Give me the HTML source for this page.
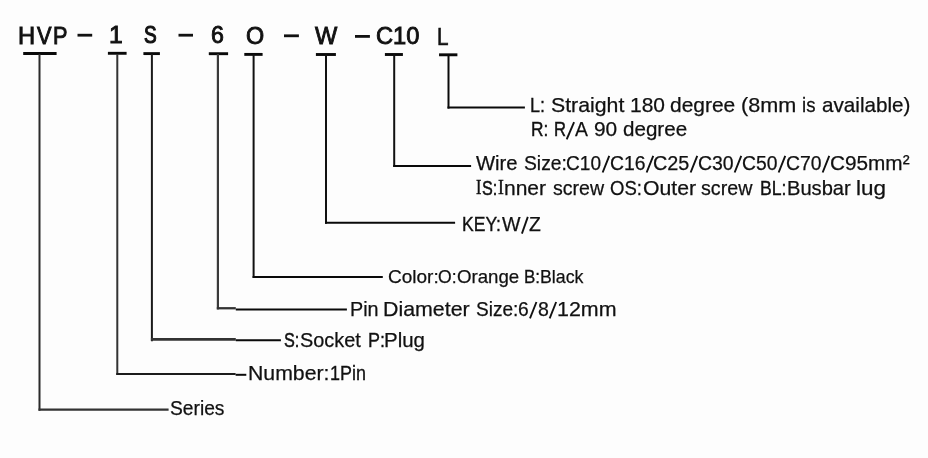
<!DOCTYPE html>
<html><head><meta charset="utf-8"><style>
html,body{margin:0;padding:0;background:#fdfdfd;width:928px;height:458px;overflow:hidden}
.w{position:absolute;left:0;top:0;width:928px;height:458px;filter:grayscale(1)}
svg{position:absolute;left:0;top:0}
.t{position:absolute;font-family:"Liberation Sans",sans-serif;line-height:1;white-space:nowrap;color:#111;transform-origin:0 0}
</style></head><body><div class="w">
<svg width="928" height="458" fill="none"><path d="M77.5 35.2H92.2" stroke="#111" stroke-width="2.8"/><path d="M178.5 35.2H193" stroke="#111" stroke-width="2.8"/><path d="M284 35.8H298.9" stroke="#111" stroke-width="2.8"/><path d="M355 36.4H369.9" stroke="#111" stroke-width="2.8"/><path d="M23.2 53.5H56.6" stroke="#0a0a0a" stroke-width="2.9"/><path d="M107.9 53.3H126.6" stroke="#0a0a0a" stroke-width="2.9"/><path d="M143.4 53.6H159.9" stroke="#0a0a0a" stroke-width="2.9"/><path d="M208.8 53.7H228.1" stroke="#0a0a0a" stroke-width="2.9"/><path d="M244.3 54.4H262.6" stroke="#0a0a0a" stroke-width="2.9"/><path d="M315.9 54.5H335.9" stroke="#0a0a0a" stroke-width="2.9"/><path d="M384.9 54.5H402.9" stroke="#0a0a0a" stroke-width="2.9"/><path d="M439.05 54.8H457.4" stroke="#0a0a0a" stroke-width="2.9"/><path d="M39.5 54V410.8" stroke="#2a2a2a" stroke-width="2"/><path d="M117.3 54V374.9" stroke="#333" stroke-width="2"/><path d="M151.9 54V341.2" stroke="#1a1a1a" stroke-width="2"/><path d="M217.9 54V309.4" stroke="#3a3a3a" stroke-width="2.2"/><path d="M253.6 54V277.9" stroke="#111" stroke-width="2"/><path d="M326.0 54V223.8" stroke="#111" stroke-width="2"/><path d="M394.2 54V166.9" stroke="#111" stroke-width="2"/><path d="M448.5 54V108.6" stroke="#0a0a0a" stroke-width="2"/><path d="M447.5 107.6H524.9" stroke="#0a0a0a" stroke-width="2"/><path d="M393.2 165.9H471.1" stroke="#0a0a0a" stroke-width="2"/><path d="M325.0 222.8H455.1" stroke="#0a0a0a" stroke-width="2"/><path d="M252.6 276.9H382.8" stroke="#0a0a0a" stroke-width="2"/><path d="M216.8 308.25H235.8" stroke="#333" stroke-width="2.3"/><path d="M235.8 309.5H346.9" stroke="#0a0a0a" stroke-width="2"/><path d="M150.9 339.4H235.8" stroke="#333" stroke-width="2.6"/><path d="M235.8 340.2H280.9" stroke="#0a0a0a" stroke-width="2"/><path d="M116.3 373.9H235.6" stroke="#1c1c1c" stroke-width="2"/><path d="M235.6 374.8H246.3" stroke="#0a0a0a" stroke-width="2"/><path d="M38.5 409.6H168.6" stroke="#333" stroke-width="2.4"/><path d="M603.0 171.6L608.9 156.8" stroke="#111" stroke-width="1.9" stroke-linecap="square"/><path d="M647.0 171.6L652.9 156.8" stroke="#111" stroke-width="1.9" stroke-linecap="square"/><path d="M691.0 171.6L696.9 156.8" stroke="#111" stroke-width="1.9" stroke-linecap="square"/><path d="M735.0 171.6L740.9 156.8" stroke="#111" stroke-width="1.9" stroke-linecap="square"/><path d="M779.0 171.6L784.9 156.8" stroke="#111" stroke-width="1.9" stroke-linecap="square"/><path d="M823.0 171.6L828.9 156.8" stroke="#111" stroke-width="1.9" stroke-linecap="square"/><path d="M530.3 317.5L536.1 302.9" stroke="#111" stroke-width="1.9" stroke-linecap="square"/><path d="M550.0 317.5L555.8 302.9" stroke="#111" stroke-width="1.9" stroke-linecap="square"/><path d="M522.2 232.7L527.5 217.8" stroke="#111" stroke-width="1.9" stroke-linecap="square"/><path d="M567.1 138.4L573.7 123.0" stroke="#111" stroke-width="1.9" stroke-linecap="square"/></svg>
<div class="t" style="left:18.12px;top:23.5px;font-size:24px;transform:scaleX(0.9895);-webkit-text-stroke:0.9px #111">H</div>
<div class="t" style="left:36.75px;top:23.5px;font-size:24px;transform:scaleX(0.9059);-webkit-text-stroke:0.9px #111">V</div>
<div class="t" style="left:52.95px;top:23.5px;font-size:24px;transform:scaleX(0.9018);-webkit-text-stroke:0.9px #111">P</div>
<div class="t" style="left:109.26px;top:22.6px;font-size:24px;transform:scaleX(1.0273);-webkit-text-stroke:0.9px #111">1</div>
<div class="t" style="left:144.4px;top:23.25px;font-size:24px;transform:scaleX(0.7933);-webkit-text-stroke:1.15px #111">S</div>
<div class="t" style="left:210.58px;top:23.05px;font-size:24px;transform:scaleX(0.9667);-webkit-text-stroke:0.9px #111">6</div>
<div class="t" style="left:246.27px;top:23.85px;font-size:24px;transform:scaleX(0.9739);-webkit-text-stroke:0.9px #111">O</div>
<div class="t" style="left:315.09px;top:24.0px;font-size:24px;transform:scaleX(0.983);-webkit-text-stroke:0.9px #111">W</div>
<div class="t" style="left:376.46px;top:24.25px;font-size:24px;transform:scaleX(0.9871);-webkit-text-stroke:0.9px #111">C10</div>
<div class="t" style="left:436.89px;top:25.15px;font-size:24px;transform:scaleX(0.8636);-webkit-text-stroke:0.6px #111">L</div>
<div class="t" style="left:530.47px;top:95.2px;font-size:20.3px;transform:scaleX(0.8873);-webkit-text-stroke:0.33px #111">L:</div>
<div class="t" style="left:550.91px;top:95.2px;font-size:20.3px;transform:scaleX(1.0493);-webkit-text-stroke:0.25px #111">Straight</div>
<div class="t" style="left:630.35px;top:95.2px;font-size:20.3px;transform:scaleX(1.0331);-webkit-text-stroke:0.25px #111">180</div>
<div class="t" style="left:670.43px;top:95.2px;font-size:20.3px;transform:scaleX(1.0332);-webkit-text-stroke:0.25px #111">degree</div>
<div class="t" style="left:741.47px;top:95.2px;font-size:20.3px;transform:scaleX(1.066);-webkit-text-stroke:0.25px #111">(8mm</div>
<div class="t" style="left:801.95px;top:95.2px;font-size:20.3px;transform:scaleX(0.9176);-webkit-text-stroke:0.26px #111">is</div>
<div class="t" style="left:821.54px;top:95.2px;font-size:20.3px;transform:scaleX(1.0188);-webkit-text-stroke:0.25px #111">available)</div>
<div class="t" style="left:530.82px;top:119.2px;font-size:20.3px;transform:scaleX(0.8529);-webkit-text-stroke:0.42px #111">R:</div>
<div class="t" style="left:554.28px;top:119.2px;font-size:20.3px;transform:scaleX(0.816);-webkit-text-stroke:0.47px #111">R</div>
<div class="t" style="left:575.1px;top:119.2px;font-size:20.3px;transform:scaleX(0.9556);-webkit-text-stroke:0.25px #111">A</div>
<div class="t" style="left:594.03px;top:119.2px;font-size:20.3px;transform:scaleX(1.0286);-webkit-text-stroke:0.25px #111">90</div>
<div class="t" style="left:623.34px;top:119.2px;font-size:20.3px;transform:scaleX(1.0154);-webkit-text-stroke:0.25px #111">degree</div>
<div class="t" style="left:475.9px;top:153.3px;font-size:20.3px;transform:scaleX(0.9976);-webkit-text-stroke:0.25px #111">Wire</div>
<div class="t" style="left:523.99px;top:153.3px;font-size:20.3px;transform:scaleX(0.9506);-webkit-text-stroke:0.25px #111">Size:</div>
<div class="t" style="left:566.26px;top:153.3px;font-size:20.3px;transform:scaleX(0.9408);-webkit-text-stroke:0.25px #111">C10</div>
<div class="t" style="left:609.85px;top:153.3px;font-size:20.3px;transform:scaleX(0.9549);-webkit-text-stroke:0.25px #111">C16</div>
<div class="t" style="left:653.42px;top:153.3px;font-size:20.3px;transform:scaleX(0.9775);-webkit-text-stroke:0.25px #111">C25</div>
<div class="t" style="left:698.34px;top:153.3px;font-size:20.3px;transform:scaleX(0.9577);-webkit-text-stroke:0.25px #111">C30</div>
<div class="t" style="left:742.35px;top:153.3px;font-size:20.3px;transform:scaleX(0.9521);-webkit-text-stroke:0.25px #111">C50</div>
<div class="t" style="left:785.85px;top:153.3px;font-size:20.3px;transform:scaleX(0.9549);-webkit-text-stroke:0.25px #111">C70</div>
<div class="t" style="left:829.88px;top:153.3px;font-size:20.3px;transform:scaleX(1.0235);-webkit-text-stroke:0.25px #111">C95mm²</div>
<div class="t" style="left:475.82px;top:177.1px;font-size:21.52px;transform:scaleX(0.752);-webkit-text-stroke:0.51px #111;font-family:'Liberation Serif',serif">I</div>
<div class="t" style="left:482.15px;top:178.45px;font-size:20.3px;transform:scaleX(0.797);-webkit-text-stroke:0.55px #111">S:</div>
<div class="t" style="left:497.79px;top:177.1px;font-size:21.52px;transform:scaleX(0.8167);-webkit-text-stroke:0.42px #111;font-family:'Liberation Serif',serif">I</div>
<div class="t" style="left:503.91px;top:178.45px;font-size:20.3px;transform:scaleX(1.0359);-webkit-text-stroke:0.25px #111">nner</div>
<div class="t" style="left:552.52px;top:178.45px;font-size:20.3px;transform:scaleX(0.9638);-webkit-text-stroke:0.25px #111">screw</div>
<div class="t" style="left:610.31px;top:178.45px;font-size:20.3px;transform:scaleX(0.9138);-webkit-text-stroke:0.27px #111">OS:</div>
<div class="t" style="left:642.81px;top:178.45px;font-size:20.3px;transform:scaleX(1.0472);-webkit-text-stroke:0.25px #111">Outer</div>
<div class="t" style="left:701.22px;top:178.45px;font-size:20.3px;transform:scaleX(0.9695);-webkit-text-stroke:0.25px #111">screw</div>
<div class="t" style="left:760.2px;top:178.45px;font-size:20.3px;transform:scaleX(0.8697);-webkit-text-stroke:0.38px #111">BL:</div>
<div class="t" style="left:786.91px;top:178.45px;font-size:20.3px;transform:scaleX(0.992);-webkit-text-stroke:0.25px #111">Busbar</div>
<div class="t" style="left:856.12px;top:178.45px;font-size:20.3px;transform:scaleX(1.1071);-webkit-text-stroke:0.25px #111">lug</div>
<div class="t" style="left:462.3px;top:214.0px;font-size:20.3px;transform:scaleX(0.8643);-webkit-text-stroke:0.38px #111">KEY:</div>
<div class="t" style="left:501.8px;top:214.0px;font-size:20.3px;transform:scaleX(0.9662);-webkit-text-stroke:0.25px #111">W</div>
<div class="t" style="left:529.42px;top:214.0px;font-size:20.3px;transform:scaleX(0.9565);-webkit-text-stroke:0.25px #111">Z</div>
<div class="t" style="left:387.75px;top:267.25px;font-size:19px;transform:scaleX(1.001);-webkit-text-stroke:0.25px #111">Color:</div>
<div class="t" style="left:438.11px;top:267.25px;font-size:19px;transform:scaleX(0.9239);-webkit-text-stroke:0.25px #111">O:</div>
<div class="t" style="left:457.06px;top:267.25px;font-size:19px;transform:scaleX(0.9823);-webkit-text-stroke:0.25px #111">Orange</div>
<div class="t" style="left:524.46px;top:267.25px;font-size:19px;transform:scaleX(0.8949);-webkit-text-stroke:0.31px #111">B:</div>
<div class="t" style="left:540.4px;top:267.25px;font-size:19px;transform:scaleX(0.9333);-webkit-text-stroke:0.25px #111">Black</div>
<div class="t" style="left:349.84px;top:298.5px;font-size:20.3px;transform:scaleX(0.9757);-webkit-text-stroke:0.25px #111">Pin</div>
<div class="t" style="left:383.42px;top:298.5px;font-size:20.3px;transform:scaleX(1.0534);-webkit-text-stroke:0.25px #111">Diameter</div>
<div class="t" style="left:476.2px;top:298.5px;font-size:20.3px;transform:scaleX(0.9388);-webkit-text-stroke:0.25px #111">Size:</div>
<div class="t" style="left:518.35px;top:298.5px;font-size:20.3px;transform:scaleX(0.9474);-webkit-text-stroke:0.25px #111">6</div>
<div class="t" style="left:537.98px;top:298.5px;font-size:20.3px;transform:scaleX(0.9641);-webkit-text-stroke:0.25px #111">8</div>
<div class="t" style="left:557.12px;top:298.5px;font-size:20.3px;transform:scaleX(1.0561);-webkit-text-stroke:0.25px #111">12mm</div>
<div class="t" style="left:284.1px;top:329.65px;font-size:20.3px;transform:scaleX(0.8);-webkit-text-stroke:0.55px #111">S:</div>
<div class="t" style="left:299.96px;top:329.65px;font-size:20.3px;transform:scaleX(0.9812);-webkit-text-stroke:0.25px #111">Socket</div>
<div class="t" style="left:367.57px;top:329.65px;font-size:20.3px;transform:scaleX(0.8875);-webkit-text-stroke:0.33px #111">P:</div>
<div class="t" style="left:384.49px;top:329.65px;font-size:20.3px;transform:scaleX(1.0079);-webkit-text-stroke:0.25px #111">Plug</div>
<div class="t" style="left:248.23px;top:363.3px;font-size:20.3px;transform:scaleX(1.047);-webkit-text-stroke:0.25px #111">Number:</div>
<div class="t" style="left:329.57px;top:363.3px;font-size:20.3px;transform:scaleX(0.8842);-webkit-text-stroke:0.34px #111">1Pin</div>
<div class="t" style="left:170.19px;top:398.35px;font-size:20.3px;transform:scaleX(0.9476);-webkit-text-stroke:0.25px #111">Series</div>
</div></body></html>
